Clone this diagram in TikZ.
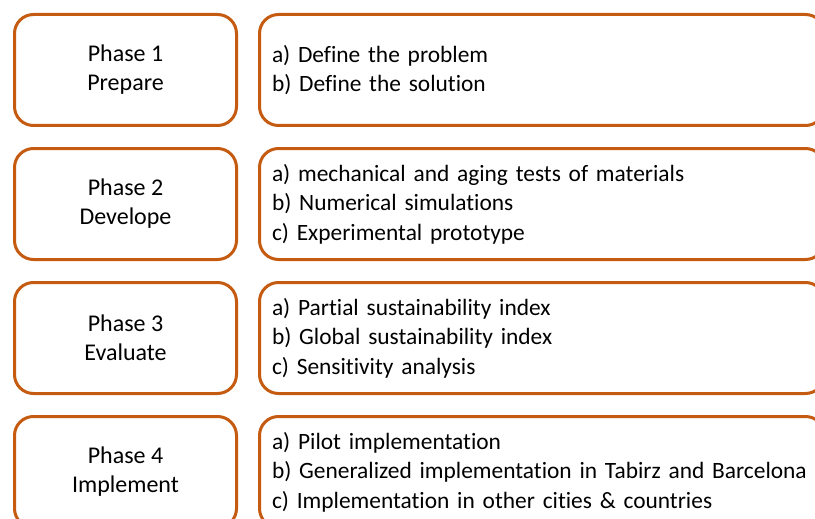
\documentclass[tikz,border=0pt]{standalone}
\usepackage{fontspec}
\setmainfont{Carlito}[Ligatures=NoCommon]
\usepackage{xcolor}
\usetikzlibrary{positioning}
\definecolor{phaseorange}{RGB}{197,90,17}

\begin{document}
\begin{tikzpicture}[
    node distance=20pt and 20pt,
    phase/.style={rectangle, rounded corners=19pt, draw=phaseorange, line width=3pt, minimum width=222pt, minimum height=111pt, align=center, font=\fontsize{24}{29}\selectfont},
    tasks/.style={rectangle, rounded corners=19pt, draw=phaseorange, line width=3pt, minimum height=111pt, text width=540pt, inner xsep=12.5pt, align=left, font=\fontsize{23.4}{29.4}\selectfont}
]
    \clip (0,0) rectangle (815pt,-519pt);
    \node[phase] (p1) at (125.5pt,-70pt) {Phase 1\\Prepare};
    \node[phase, below=of p1] (p2) {Phase 2\\Develope};
    \node[phase, below=of p2] (p3) {Phase 3\\Evaluate};
    \node[phase, below=of p3] (p4) {Phase 4\\Implement};

    \node[tasks, right=of p1] (t1) {a) Define the problem\\b) Define the solution};
    \node[tasks, right=of p2] (t2) {a) mechanical and aging tests of materials\\b) Numerical simulations\\c) Experimental prototype};
    \node[tasks, right=of p3] (t3) {a) Partial sustainability index\\b) Global sustainability index\\c) Sensitivity analysis};
    \node[tasks, right=of p4] (t4) {a) Pilot implementation\\b) Generalized implementation in Tabirz and Barcelona\\c) Implementation in other cities \& countries};
\end{tikzpicture}
\end{document}
